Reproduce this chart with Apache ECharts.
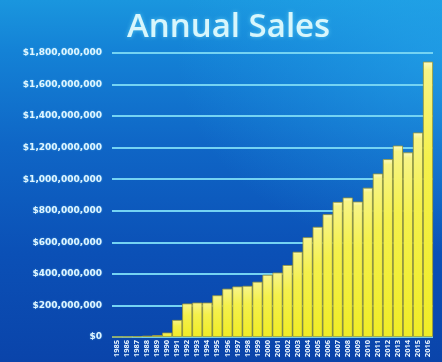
<!DOCTYPE html>
<html>
<head>
<meta charset="utf-8">
<script src="https://cdn.jsdelivr.net/npm/echarts@6/dist/echarts.min.js"></script>
<style>
html,body{margin:0;padding:0;}
#c{width:442px;height:362px;
background:
 radial-gradient(ellipse 60% 55% at 100% 15%, rgba(40,175,240,0.55), rgba(40,175,240,0) 100%),
 linear-gradient(to bottom, #1a96de 0%, #1482d6 14%, #0f66c6 40%, #0b50b6 70%, #0a44aa 100%);}
</style>
</head>
<body>
<div id="c"></div>
<script>
const years = ['1985','1986','1987','1988','1989','1990','1991','1992','1993','1994','1995','1996','1997','1998','1999','2000','2001','2002','2003','2004','2005','2006','2007','2008','2009','2010','2011','2012','2013','2014','2015','2016'];
const sales = [1e6,2e6,4e6,8e6,1.2e7,2.8e7,1.08e8,2.12e8,2.18e8,2.18e8,2.64e8,3.06e8,3.2e8,3.24e8,3.5e8,3.94e8,4.08e8,4.56e8,5.4e8,6.32e8,6.98e8,7.78e8,8.56e8,8.84e8,8.58e8,9.46e8,1.036e9,1.127e9,1.213e9,1.17e9,1.296e9,1.745e9];
const yTicks = {min: 0, max: 1.8e9, interval: 2e8};
const titleText = 'Annual Sales';

const chart = echarts.init(document.getElementById('c'), null, {renderer: 'canvas'});
chart.setOption({
  backgroundColor: 'transparent',
  animation: false,
  title: {
    text: titleText, left: 127, top: 11, padding: 0,
    textStyle: {color: '#d8f6fc', fontSize: 33, fontWeight: 600, fontFamily: 'Open Sans',
      textShadowColor: 'rgba(120,230,255,0.6)', textShadowBlur: 4}
  },
  grid: {left: 112, right: 9, top: 53, bottom: 25},
  xAxis: {
    type: 'category', data: years,
    axisLine: {show: false}, axisTick: {show: false},
    axisLabel: {interval: 0, rotate: 90, color: '#eaf6ff', fontSize: 7.5, fontWeight: 'bold',
      fontFamily: 'Open Sans', margin: 3}
  },
  yAxis: {
    type: 'value', min: yTicks.min, max: yTicks.max, interval: yTicks.interval,
    axisLine: {show: false}, axisTick: {show: false},
    splitLine: {show: true, lineStyle: {color: '#74d3f3', width: 2}},
    axisLabel: {
      color: '#dff5ff', fontSize: 9, fontWeight: 'bold', fontFamily: 'DejaVu Sans', margin: 10,
      textShadowColor: 'rgba(140,230,255,0.5)', textShadowBlur: 2,
      formatter: v => '$' + v.toLocaleString('en-US')
    }
  },
  series: [{
    type: 'bar', data: sales, barCategoryGap: '0%',
    itemStyle: {
      color: {type: 'linear', x: 0, y: 0, x2: 0, y2: 1, colorStops: [
        {offset: 0, color: '#fbfbc4'}, {offset: 0.03, color: '#f7f486'},
        {offset: 0.35, color: '#f4f04c'}, {offset: 1, color: '#f0ec26'}]},
      borderColor: '#9c9832', borderWidth: 0.8
    }
  }]
});
</script>
</body>
</html>
